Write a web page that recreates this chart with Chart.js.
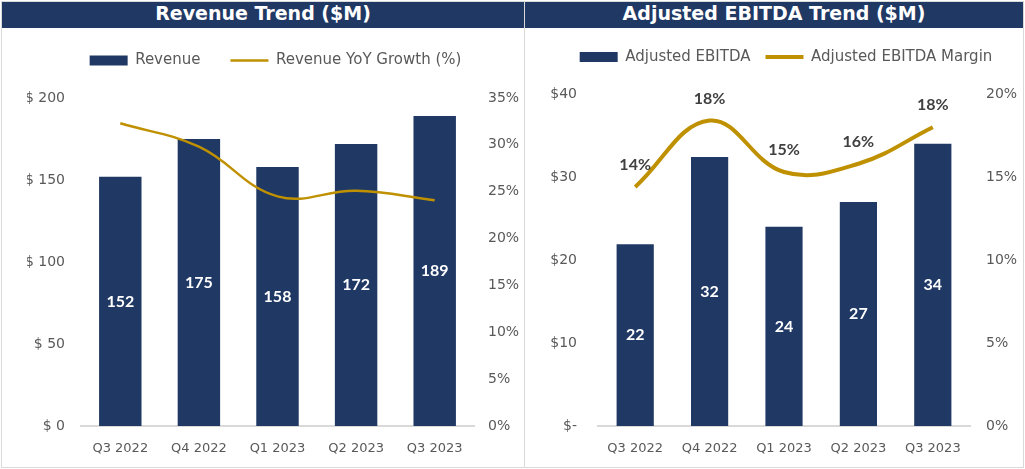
<!DOCTYPE html>
<html>
<head>
<meta charset="utf-8">
<script src="https://cdn.jsdelivr.net/npm/chart.js@4.4.0/dist/chart.umd.min.js"></script>
<style>
    body { margin: 0; background: #fff; }
    .panel { position: absolute; top: 1px; height: 467px; box-sizing: border-box; border: 1px solid #d9d9d9; }
    .title { height: 26px; line-height: 27px; background: #203864; color: #fff; text-align: center; font: bold 19px 'DejaVu Sans'; }
    .box { position: relative; height: 439px; }
</style>
</head>
<body>
<div class="panel" style="left:1px; width:524px;">
    <div class="title">Revenue Trend ($M)</div>
    <div class="box"><canvas id="Chart_Revenue"></canvas></div>
</div>
<div class="panel" style="left:524px; width:500px;">
    <div class="title">Adjusted EBITDA Trend ($M)</div>
    <div class="box"><canvas id="Chart_Ebitda"></canvas></div>
</div>
<script>
// du lieu doc tu hinh
const quarters = ['Q3 2022', 'Q4 2022', 'Q1 2023', 'Q2 2023', 'Q3 2023'];
const revenue = [152, 175, 158, 172, 189];
const revenueGrowth = [32.3, 29.8, 24.5, 25.1, 24.1];
const ebitda = [21.9, 32.4, 24.0, 27.0, 34.0];
const ebitdaMargin = [14.4, 18.4, 15.3, 15.8, 18.0];

const navy = '#203864';
const gold = '#bf9000';
const grey = '#595959';

// khoang cach them giua legend va vung ve
function legendGap(extra) {
    return {
        id: 'legendGap',
        beforeInit: (chart) => {
            if (!chart.legend) return;
            const fit = chart.legend.fit;
            chart.legend.fit = function () {
                fit.bind(chart.legend)();
                this.height += extra;
            };
        }
    };
}

// ve so lieu tren cot va tren duong
const valueLabels = {
    id: 'valueLabels',
    afterDatasetsDraw: (chart) => {
        const ctx = chart.ctx;
        chart.data.datasets.forEach(function (ds, i) {
            const meta = chart.getDatasetMeta(i);
            if (!ds.showLabels) return;
            ctx.save();
            ctx.font = 'bold 16px Lato';
            ctx.textAlign = 'center';
            ctx.textBaseline = 'middle';
            meta.data.forEach(function (el, j) {
                const v = ds.data[j];
                if (ds.type === 'bar') {
                    ctx.fillStyle = '#ffffff';
                    ctx.fillText(Math.round(v), el.x, (el.y + el.base) / 2);
                } else {
                    ctx.fillStyle = '#404040';
                    ctx.fillText(Math.round(v) + '%', el.x, el.y - 22);
                }
            });
            ctx.restore();
        });
    }
};

function makeOptions(cfg) {
    return {
        responsive: true,
        maintainAspectRatio: false,
        animation: false,
        layout: {
            padding: { top: cfg.top, left: cfg.left, right: 0, bottom: 0 }
        },
        plugins: {
            tooltip: { enabled: false },
            legend: {
                labels: {
                    usePointStyle: true,
                    pointStyleWidth: 38,
                    boxHeight: 10,
                    padding: cfg.legendPad,
                    color: grey,
                    font: { family: 'DejaVu Sans', size: 15 },
                    sort: (a, b) => b.datasetIndex - a.datasetIndex
                }
            }
        },
        scales: {
            x: {
                grid: { display: false, drawTicks: false },
                border: { color: '#d9d9d9', width: 2 },
                ticks: { color: grey, padding: 15, font: { family: 'DejaVu Sans', size: 13 } },
                afterFit: (scale) => { scale.height = 41; }
            },
            y: {
                position: 'left',
                min: 0,
                max: cfg.yMax,
                grid: { display: false, drawTicks: false },
                border: { display: false },
                ticks: {
                    stepSize: cfg.yStep,
                    color: grey,
                    padding: cfg.yPad,
                    font: { family: 'DejaVu Sans', size: 14 },
                    callback: cfg.yFormat
                },
                afterFit: (scale) => { scale.width = cfg.yWidth; }
            },
            y1: {
                position: 'right',
                min: 0,
                max: cfg.y1Max,
                grid: { display: false, drawTicks: false },
                border: { display: false },
                ticks: {
                    stepSize: 5,
                    color: grey,
                    padding: cfg.y1Pad,
                    font: { family: 'DejaVu Sans', size: 14 },
                    callback: function (value) { return value + '%'; }
                },
                afterFit: (scale) => { scale.width = cfg.y1Width; }
            }
        }
    };
}

var Chart_Revenue = new Chart(document.getElementById('Chart_Revenue'), {
    data: {
        labels: quarters,
        datasets: [{
            type: 'line',
            label: 'Revenue YoY Growth (%)',
            data: revenueGrowth,
            yAxisID: 'y1',
            borderColor: gold,
            backgroundColor: gold,
            borderWidth: 2.5,
            tension: 0.4,
            pointRadius: 0,
            pointStyle: 'line'
        }, {
            type: 'bar',
            label: 'Revenue',
            data: revenue,
            yAxisID: 'y',
            backgroundColor: navy,
            borderWidth: 0,
            categoryPercentage: 1,
            barPercentage: 0.54,
            pointStyle: 'rect',
            showLabels: true
        }]
    },
    options: makeOptions({
        top: -5, left: 25, legendPad: 30,
        yMax: 200, yStep: 50, yPad: 16, yWidth: 54,
        y1Max: 35, y1Pad: 14, y1Width: 50,
        yFormat: function (value) { return '$ ' + value; }
    }),
    plugins: [legendGap(20), valueLabels]
});

var Chart_Ebitda = new Chart(document.getElementById('Chart_Ebitda'), {
    data: {
        labels: quarters,
        datasets: [{
            type: 'line',
            label: 'Adjusted EBITDA Margin',
            data: ebitdaMargin,
            yAxisID: 'y1',
            borderColor: gold,
            backgroundColor: gold,
            borderWidth: 4,
            tension: 0.4,
            pointRadius: 0,
            pointStyle: 'line',
            showLabels: true
        }, {
            type: 'bar',
            label: 'Adjusted EBITDA',
            data: ebitda,
            yAxisID: 'y',
            backgroundColor: navy,
            borderWidth: 0,
            categoryPercentage: 1,
            barPercentage: 0.5,
            pointStyle: 'rect',
            showLabels: true
        }]
    },
    options: makeOptions({
        top: 6.5, left: 24, legendPad: 15,
        yMax: 40, yStep: 10, yPad: 21, yWidth: 49,
        y1Max: 20, y1Pad: 16, y1Width: 53,
        yFormat: function (value) { return value === 0 ? '$-' : '$' + value; }
    }),
    plugins: [legendGap(19.5), valueLabels]
});
</script>
</body>
</html>
